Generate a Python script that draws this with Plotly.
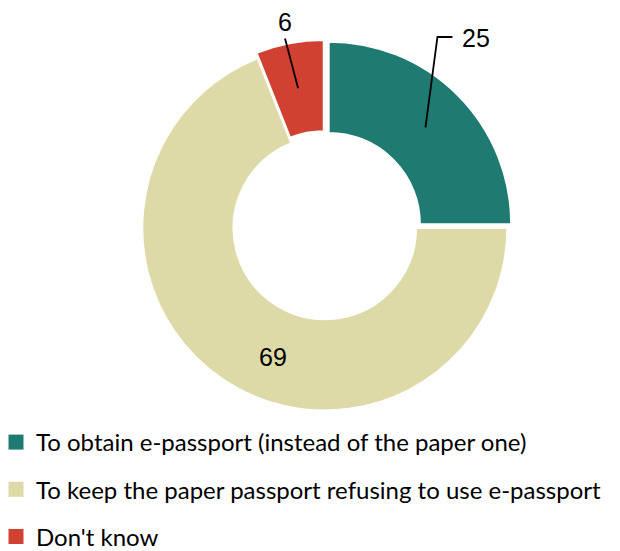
import math
import plotly.graph_objects as go

# ---- data ----
categories = [
    "To obtain e-passport (instead of the paper one)",
    "To keep the paper passport refusing to use e-passport",
    "Don't know",
]
values = [25, 69, 6]
value_labels = ["25", "69", "6"]

# ---- style ----
colors = ["#1F7A71", "#DDDAA8", "#D14132"]
pulls = [0.03, 0, 0.03]

W, H = 620, 551
OX, OY = 8, 8          # page body margin offset
CX, CY, R = 324.8, 228.0, 182.5   # page pixel geometry
HOLE = 0.5
half = R * (1 + max(pulls))


def px(x):
    return (x - OX) / W


def py(y):
    return 1 - (y - OY) / H


fig = go.Figure()
fig.add_trace(go.Pie(
    labels=categories, values=values, sort=False, direction="clockwise",
    rotation=0, hole=HOLE, pull=pulls,
    marker=dict(colors=colors, line=dict(color="white", width=2)),
    textinfo="none", hoverinfo="label+value", showlegend=False,
    domain=dict(x=[px(CX - half), px(CX + half)],
                y=[py(CY + half), py(CY - half)]),
))

# legend entries (one group each so the row gap can be set)
for cat, col in zip(categories, colors):
    fig.add_trace(go.Scatter(
        x=[None], y=[None], mode="markers", name=cat, legendgroup=cat,
        marker=dict(symbol="square", size=15, color=col),
        hoverinfo="skip", showlegend=True,
    ))

# ---- value labels with leader lines, anchored at slice mid-angles ----
total = sum(values)
cum = 0
anchors = []
for v, p in zip(values, pulls):
    mid = (cum + v / 2) / total * 2 * math.pi
    cum += v
    ux, uy = math.sin(mid), -math.cos(mid)
    cxp, cyp = CX + p * R * ux, CY + p * R * uy
    rm = R * (1 + HOLE) / 2
    anchors.append((cxp + rm * ux, cyp + rm * uy))

label_pos = [(460, 38), (273, 357), (285, 22)]
label_anchor = ["left", "center", "center"]

for i, (txt, (lx, ly), xa) in enumerate(zip(value_labels, label_pos, label_anchor)):
    fig.add_annotation(
        x=px(lx), y=py(ly), xref="paper", yref="paper", text=txt,
        showarrow=False, xanchor=xa, yanchor="middle",
        font=dict(family="Liberation Sans, Arial", size=25, color="black"),
    )

# leader for first slice: elbow line
ax0, ay0 = anchors[0]
path0 = "M {},{} L {},{} L {},{}".format(
    px(ax0), py(ay0), px(ax0 + 12), py(37), px(ax0 + 27), py(37))
fig.add_shape(type="path", path=path0, xref="paper", yref="paper",
              line=dict(color="black", width=1.8))
# leader for third slice: straight line
ax2, ay2 = anchors[2]
fig.add_shape(type="line", x0=px(ax2), y0=py(ay2), x1=px(285), y1=py(38.5),
              xref="paper", yref="paper",
              line=dict(color="black", width=1.8))

fig.update_layout(
    width=W, height=H,
    margin=dict(l=0, r=0, t=0, b=0, autoexpand=False),
    paper_bgcolor="white", plot_bgcolor="white",
    xaxis=dict(visible=False), yaxis=dict(visible=False),
    showlegend=True,
    legend=dict(
        x=px(-4), y=py(420), xanchor="left", yanchor="top",
        font=dict(family="Lato, Carlito, Calibri, sans-serif", size=24, color="black"),
        tracegroupgap=13, bgcolor="rgba(0,0,0,0)", itemclick=False,
    ),
)

fig.write_html("out.html")
